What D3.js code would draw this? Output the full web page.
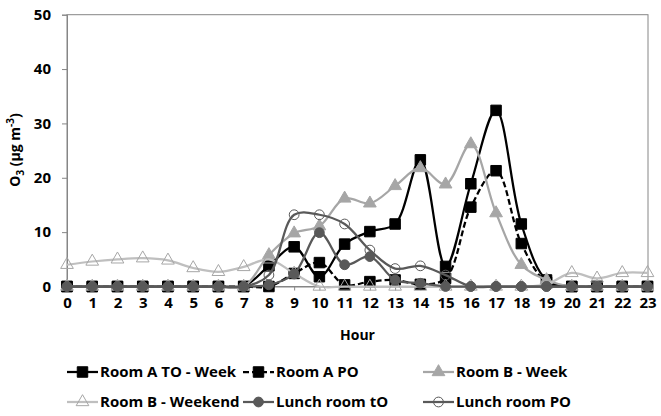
<!DOCTYPE html>
<html>
<head>
<meta charset="utf-8">
<script src="https://cdnjs.cloudflare.com/ajax/libs/d3/7.8.5/d3.min.js"></script>
<style>
  body { margin: 0; background: #fff; }
  svg text { font-family: "Open Sans", sans-serif; font-weight: bold; fill: #000; }
</style>
</head>
<body>
<svg id="chart" width="661" height="416"></svg>
<script>
// data
const hours = d3.range(0, 24);
const yTicks = [0, 10, 20, 30, 40, 50];

const roomATO   = [0,0,0,0,0,0,0,0,3.8,7.3,1.8,7.8,10.1,11.5,23.3,3.7,18.9,32.4,11.5,1.2,0,0,0,0];
const roomAPO   = [0,0,0,0,0,0,0,0,0,2.4,4.4,0.3,0.9,1.2,0.4,1.5,14.6,21.3,7.9,0.8,0,0,0,0];
const roomBWeek = [0,0,0,0,0,0,0,0,5.8,9.8,11.1,16.2,15.3,18.5,21.8,18.8,26.2,13.5,4.0,1.2,0,0,0,0];
const roomBWkd  = [4.0,4.6,5.0,5.2,4.8,3.4,2.7,3.6,5.0,2.4,0,0,0,0,0,0,0,0,0,0.4,2.5,1.5,2.5,2.5];
const lunchTO   = [0,0,0,0,0,0,0,0,0.3,2.3,9.9,4.0,5.5,1.2,0.6,0,0,0,0,0,0,0,0,0];
const lunchPO   = [0,0,0,0,0,0,0,0,2.1,13.2,13.2,11.5,6.7,3.3,3.8,2.1,0,0,0,0,0,0,0,0];

const series = [
  { name: 'Room A TO - Week', values: roomATO,   line: '#000', dash: null,  marker: 'square',   fill: '#000',    stroke: '#000' },
  { name: 'Room A PO',        values: roomAPO,   line: '#000', dash: '6,3', marker: 'square',   fill: '#000',    stroke: '#000' },
  { name: 'Room B - Week',    values: roomBWeek, line: '#a6a6a6', dash: null, marker: 'triangle', fill: '#a6a6a6', stroke: '#a6a6a6' },
  { name: 'Room B - Weekend', values: roomBWkd,  line: '#bfbfbf', dash: null, marker: 'triangle', fill: 'none',    stroke: '#a6a6a6' },
  { name: 'Lunch room tO',    values: lunchTO,   line: '#595959', dash: null, marker: 'circle',   fill: '#595959', stroke: '#595959' },
  { name: 'Lunch room PO',    values: lunchPO,   line: '#595959', dash: null, marker: 'circle',   fill: 'none',    stroke: '#595959' }
];

const svg = d3.select('#chart');
const pl = 67, pr = 648, pt = 14.7, pb = 286.5;

const x = d3.scalePoint().domain(hours).range([pl, 647.5]);
const y = d3.scaleLinear().domain([0, 50]).range([pb, pt]);

// frame
svg.append('rect')
  .attr('x', pl).attr('y', pt)
  .attr('width', pr - pl).attr('height', pb - pt)
  .attr('fill', 'none').attr('stroke', '#868686').attr('stroke-width', 1);

// y axis
const yAxis = svg.append('g')
  .attr('transform', `translate(${pl},0)`)
  .call(d3.axisLeft(y).tickValues(yTicks).tickSize(5).tickPadding(11));
yAxis.select('.domain').attr('stroke', '#868686');
yAxis.selectAll('line').attr('stroke', '#868686');
yAxis.selectAll('text').attr('font-size', 15);

// x axis
const xAxis = svg.append('g')
  .attr('transform', `translate(0,${pb})`)
  .call(d3.axisBottom(x).tickSize(4).tickPadding(7));
xAxis.select('.domain').attr('stroke', '#868686');
xAxis.selectAll('line').attr('stroke', '#868686');
xAxis.selectAll('text').attr('font-size', 15);

// axis titles
svg.append('text')
  .attr('x', (pl + pr) / 2).attr('y', 340)
  .attr('text-anchor', 'middle').attr('font-size', 14)
  .text('Hour');

const yt = svg.append('text')
  .attr('transform', 'translate(20,150) rotate(-90)')
  .attr('text-anchor', 'middle').attr('font-size', 14);
yt.append('tspan').text('O');
yt.append('tspan').attr('font-size', 10).attr('dy', 4).text('3');
yt.append('tspan').attr('dy', -4).text(' (µg m');
yt.append('tspan').attr('font-size', 10).attr('dy', -6).text('-3');
yt.append('tspan').attr('dy', 6).text(')');

function markerPath(type) {
  if (type === 'square') return d3.symbol(d3.symbolSquare, 110)();
  if (type === 'triangle') return d3.symbol(d3.symbolTriangle, 70)();
  return d3.symbol(d3.symbolCircle, 75)();
}

const line = d3.line()
  .x((d, i) => x(hours[i]))
  .y(d => y(d))
  .curve(d3.curveCatmullRom.alpha(0.5));

const plot = svg.append('g');
series.forEach(s => {
  const g = plot.append('g');
  g.append('path')
    .attr('d', line(s.values))
    .attr('fill', 'none')
    .attr('stroke', s.line)
    .attr('stroke-width', 2.25)
    .attr('stroke-dasharray', s.dash);
  g.selectAll('path.pt')
    .data(s.values)
    .join('path')
    .attr('class', 'pt')
    .attr('d', markerPath(s.marker))
    .attr('transform', (d, i) => `translate(${x(hours[i])},${y(d)})`)
    .attr('fill', s.fill)
    .attr('stroke', s.stroke)
    .attr('stroke-width', 1);
});

// legend
const legendPos = [[67, 372], [243, 372], [423, 372], [67, 402], [243, 402], [423, 402]];
series.forEach((s, i) => {
  const [lx, ly] = legendPos[i];
  const g = svg.append('g').attr('transform', `translate(${lx},${ly})`);
  g.append('line')
    .attr('x1', 0).attr('x2', 31).attr('y1', 0).attr('y2', 0)
    .attr('stroke', s.line).attr('stroke-width', 2.25)
    .attr('stroke-dasharray', s.dash);
  g.append('path')
    .attr('d', markerPath(s.marker))
    .attr('transform', 'translate(15.5,0)')
    .attr('fill', s.fill).attr('stroke', s.stroke);
  g.append('text')
    .attr('x', 33).attr('y', 5)
    .attr('font-size', 15)
    .text(s.name);
});
</script>
</body>
</html>
